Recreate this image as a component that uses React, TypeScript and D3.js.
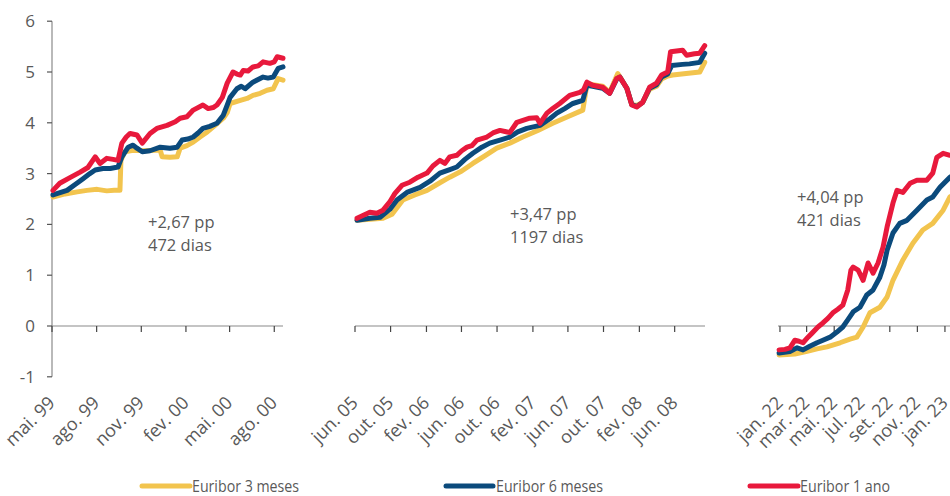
import React from "react";
import * as d3 from "d3";

// ---------- DATA ----------
const seriesNames = ["Euribor 3 meses", "Euribor 6 meses", "Euribor 1 ano"];
const seriesColors = ["#F2C44E", "#0B4A7C", "#E8193C"];
const yTicks = [-1, 0, 1, 2, 3, 4, 5, 6];

// Panel 1: 1999-2000
const p1TickDates = ["1999-05-01", "1999-08-01", "1999-11-01", "2000-02-01", "2000-05-01", "2000-08-01"];
const p1TickLabels = ["mai. 99", "ago. 99", "nov. 99", "fev. 00", "mai. 00", "ago. 00"];
const p1Note = ["+2,67 pp", "472 dias"];
const p1_3m: [string, number][] = [
  ["1999-05-03", 2.54], ["1999-05-28", 2.6], ["1999-06-22", 2.64], ["1999-07-12", 2.67], ["1999-08-02", 2.69],
  ["1999-08-22", 2.66], ["1999-09-06", 2.67], ["1999-09-18", 2.67], ["1999-09-20", 3.26], ["1999-09-28", 3.43],
  ["1999-10-15", 3.46], ["1999-11-09", 3.45], ["1999-11-29", 3.46], ["1999-12-10", 3.46], ["1999-12-14", 3.33],
  ["1999-12-30", 3.32], ["2000-01-14", 3.33], ["2000-01-20", 3.5], ["2000-02-03", 3.55], ["2000-02-16", 3.62],
  ["2000-03-01", 3.72], ["2000-03-16", 3.82], ["2000-04-01", 3.95], ["2000-04-18", 4.09], ["2000-04-26", 4.2],
  ["2000-05-02", 4.38], ["2000-05-23", 4.44], ["2000-06-06", 4.48], ["2000-06-18", 4.54], ["2000-07-03", 4.58],
  ["2000-07-17", 4.64], ["2000-07-30", 4.67], ["2000-08-09", 4.87], ["2000-08-19", 4.84],
];
const p1_6m: [string, number][] = [
  ["1999-05-03", 2.58], ["1999-06-01", 2.67], ["1999-06-17", 2.78], ["1999-07-04", 2.9], ["1999-07-18", 3.0],
  ["1999-07-29", 3.07], ["1999-08-14", 3.1], ["1999-08-29", 3.1], ["1999-09-14", 3.13], ["1999-09-22", 3.33],
  ["1999-10-05", 3.52], ["1999-10-15", 3.56], ["1999-10-23", 3.5], ["1999-11-03", 3.43], ["1999-11-19", 3.45],
  ["1999-12-10", 3.52], ["1999-12-30", 3.5], ["2000-01-14", 3.52], ["2000-01-24", 3.66], ["2000-02-05", 3.68],
  ["2000-02-16", 3.72], ["2000-02-26", 3.8], ["2000-03-07", 3.89], ["2000-03-21", 3.93], ["2000-04-05", 3.99],
  ["2000-04-18", 4.15], ["2000-04-26", 4.35], ["2000-05-02", 4.5], ["2000-05-16", 4.67], ["2000-05-25", 4.72],
  ["2000-06-02", 4.67], ["2000-06-18", 4.8], ["2000-07-09", 4.9], ["2000-07-19", 4.88], ["2000-07-30", 4.9],
  ["2000-08-09", 5.07], ["2000-08-19", 5.1],
];
const p1_12m: [string, number][] = [
  ["1999-05-03", 2.67], ["1999-05-17", 2.81], ["1999-06-07", 2.92], ["1999-06-28", 3.03], ["1999-07-14", 3.12],
  ["1999-07-29", 3.33], ["1999-08-08", 3.2], ["1999-08-22", 3.3], ["1999-09-04", 3.28], ["1999-09-14", 3.26],
  ["1999-09-22", 3.6], ["1999-10-01", 3.72], ["1999-10-09", 3.79], ["1999-10-23", 3.76], ["1999-11-03", 3.6],
  ["1999-11-19", 3.79], ["1999-12-03", 3.89], ["1999-12-24", 3.95], ["2000-01-10", 4.02], ["2000-01-20", 4.09],
  ["2000-02-03", 4.12], ["2000-02-16", 4.25], ["2000-03-07", 4.35], ["2000-03-18", 4.28], ["2000-03-28", 4.3],
  ["2000-04-05", 4.35], ["2000-04-16", 4.5], ["2000-04-26", 4.78], ["2000-05-08", 5.0], ["2000-05-16", 4.96],
  ["2000-05-23", 4.94], ["2000-05-29", 5.03], ["2000-06-08", 5.02], ["2000-06-18", 5.1], ["2000-06-29", 5.12],
  ["2000-07-09", 5.2], ["2000-07-23", 5.17], ["2000-08-01", 5.2], ["2000-08-07", 5.3], ["2000-08-19", 5.27],
];

// Panel 2: 2005-2008
const p2TickDates = ["2005-06-01", "2005-10-01", "2006-02-01", "2006-06-01", "2006-10-01", "2007-02-01", "2007-06-01", "2007-10-01", "2008-02-01", "2008-06-01"];
const p2TickLabels = ["jun. 05", "out. 05", "fev. 06", "jun. 06", "out. 06", "fev. 07", "jun. 07", "out. 07", "fev. 08", "jun. 08"];
const p2Note = ["+3,47 pp", "1197 dias"];
const p2_3m: [string, number][] = [
  ["2005-06-08", 2.08], ["2005-09-05", 2.12], ["2005-10-06", 2.2], ["2005-11-12", 2.48], ["2005-12-23", 2.58],
  ["2006-02-03", 2.67], ["2006-03-19", 2.82], ["2006-04-22", 2.93], ["2006-06-02", 3.05], ["2006-07-10", 3.2],
  ["2006-08-20", 3.35], ["2006-09-30", 3.5], ["2006-11-14", 3.6], ["2006-12-28", 3.72], ["2007-02-18", 3.85],
  ["2007-04-10", 3.99], ["2007-05-31", 4.12], ["2007-07-22", 4.25], ["2007-08-05", 4.74], ["2007-08-25", 4.75],
  ["2007-09-28", 4.72], ["2007-10-22", 4.6], ["2007-11-19", 4.97], ["2007-11-29", 4.88], ["2007-12-20", 4.68],
  ["2008-01-06", 4.36], ["2008-01-23", 4.34], ["2008-02-12", 4.4], ["2008-03-07", 4.66], ["2008-03-31", 4.72],
  ["2008-04-17", 4.86], ["2008-05-08", 4.92], ["2008-05-25", 4.94], ["2008-08-26", 5.0], ["2008-09-12", 5.19],
];
const p2_6m: [string, number][] = [
  ["2005-06-08", 2.08], ["2005-07-22", 2.12], ["2005-08-26", 2.14], ["2005-09-29", 2.3], ["2005-10-23", 2.48],
  ["2005-11-26", 2.63], ["2006-01-10", 2.73], ["2006-02-13", 2.85], ["2006-03-19", 3.01], ["2006-04-22", 3.08],
  ["2006-05-16", 3.13], ["2006-06-13", 3.28], ["2006-07-10", 3.4], ["2006-08-10", 3.52], ["2006-09-06", 3.6],
  ["2006-10-11", 3.66], ["2006-11-14", 3.72], ["2006-12-11", 3.82], ["2007-01-11", 3.89], ["2007-02-25", 3.95],
  ["2007-03-31", 4.08], ["2007-04-24", 4.19], ["2007-05-21", 4.28], ["2007-06-18", 4.38], ["2007-07-22", 4.44],
  ["2007-08-05", 4.74], ["2007-08-25", 4.72], ["2007-09-28", 4.68], ["2007-10-22", 4.58], ["2007-11-15", 4.86],
  ["2007-11-26", 4.9], ["2007-12-20", 4.68], ["2008-01-06", 4.36], ["2008-01-23", 4.32], ["2008-02-12", 4.4],
  ["2008-03-07", 4.68], ["2008-03-31", 4.75], ["2008-04-17", 4.9], ["2008-05-08", 4.96], ["2008-05-22", 5.13],
  ["2008-06-28", 5.15], ["2008-07-22", 5.16], ["2008-08-26", 5.19], ["2008-09-12", 5.37],
];
const p2_12m: [string, number][] = [
  ["2005-06-08", 2.12], ["2005-07-22", 2.24], ["2005-08-15", 2.22], ["2005-09-05", 2.28], ["2005-09-29", 2.45],
  ["2005-10-16", 2.61], ["2005-11-09", 2.77], ["2005-12-06", 2.83], ["2006-01-03", 2.93], ["2006-02-03", 3.01],
  ["2006-02-23", 3.15], ["2006-03-19", 3.26], ["2006-04-05", 3.2], ["2006-04-22", 3.33], ["2006-05-16", 3.36],
  ["2006-06-02", 3.45], ["2006-06-20", 3.52], ["2006-07-07", 3.55], ["2006-07-24", 3.66], ["2006-08-27", 3.72],
  ["2006-09-17", 3.8], ["2006-10-11", 3.85], ["2006-10-28", 3.83], ["2006-11-14", 3.81], ["2006-12-08", 4.01],
  ["2007-01-21", 4.09], ["2007-02-14", 4.1], ["2007-02-25", 3.99], ["2007-03-21", 4.19], ["2007-04-10", 4.28],
  ["2007-05-04", 4.38], ["2007-06-07", 4.54], ["2007-07-12", 4.6], ["2007-07-25", 4.65], ["2007-08-05", 4.8],
  ["2007-08-25", 4.74], ["2007-09-28", 4.7], ["2007-10-22", 4.58], ["2007-11-15", 4.87], ["2007-11-26", 4.9],
  ["2007-12-20", 4.68], ["2008-01-06", 4.35], ["2008-01-23", 4.31], ["2008-02-12", 4.4], ["2008-03-07", 4.7],
  ["2008-03-31", 4.78], ["2008-04-17", 4.94], ["2008-05-08", 5.0], ["2008-05-18", 5.4], ["2008-06-28", 5.43],
  ["2008-07-12", 5.33], ["2008-08-08", 5.36], ["2008-08-26", 5.37], ["2008-09-12", 5.52],
];

// Panel 3: 2022-2023
const p3TickDates = ["2022-01-01", "2022-03-01", "2022-05-01", "2022-07-01", "2022-09-01", "2022-11-01", "2023-01-01"];
const p3TickLabels = ["jan. 22", "mar. 22", "mai. 22", "jul. 22", "set. 22", "nov. 22", "jan. 23"];
const p3Note = ["+4,04 pp", "421 dias"];
const p3_3m: [string, number][] = [
  ["2021-12-30", -0.57], ["2022-02-03", -0.55], ["2022-03-02", -0.5], ["2022-03-24", -0.45], ["2022-04-15", -0.41],
  ["2022-05-14", -0.33], ["2022-06-05", -0.26], ["2022-06-20", -0.22], ["2022-07-04", -0.02], ["2022-07-19", 0.26],
  ["2022-08-10", 0.37], ["2022-08-26", 0.57], ["2022-09-08", 0.9], ["2022-09-30", 1.3], ["2022-10-22", 1.63],
  ["2022-11-13", 1.89], ["2022-12-05", 2.02], ["2022-12-28", 2.28], ["2023-01-12", 2.54], ["2023-01-23", 2.6],
];
const p3_6m: [string, number][] = [
  ["2021-12-30", -0.53], ["2022-01-23", -0.5], ["2022-02-08", -0.43], ["2022-02-21", -0.47], ["2022-03-08", -0.4],
  ["2022-03-24", -0.33], ["2022-04-06", -0.28], ["2022-04-22", -0.22], ["2022-05-07", -0.12], ["2022-05-20", -0.02],
  ["2022-05-31", 0.12], ["2022-06-12", 0.28], ["2022-06-27", 0.37], ["2022-07-12", 0.61], ["2022-07-26", 0.71],
  ["2022-08-10", 0.96], ["2022-08-19", 1.2], ["2022-08-26", 1.49], ["2022-09-08", 1.83], ["2022-09-23", 2.02],
  ["2022-10-09", 2.08], ["2022-10-31", 2.28], ["2022-11-22", 2.48], ["2022-12-05", 2.54], ["2022-12-21", 2.73],
  ["2023-01-12", 2.93], ["2023-01-23", 2.98],
];
const p3_12m: [string, number][] = [
  ["2021-12-30", -0.47], ["2022-01-12", -0.46], ["2022-01-23", -0.43], ["2022-02-03", -0.28], ["2022-02-12", -0.3],
  ["2022-02-21", -0.33], ["2022-03-04", -0.22], ["2022-03-13", -0.14], ["2022-03-26", -0.02], ["2022-04-06", 0.06],
  ["2022-04-17", 0.15], ["2022-04-28", 0.26], ["2022-05-09", 0.33], ["2022-05-20", 0.41], ["2022-05-31", 0.71],
  ["2022-06-07", 1.1], ["2022-06-12", 1.16], ["2022-06-23", 1.1], ["2022-07-04", 0.9], ["2022-07-15", 1.24],
  ["2022-07-26", 1.04], ["2022-08-06", 1.24], ["2022-08-17", 1.55], ["2022-08-26", 1.95], ["2022-09-08", 2.42],
  ["2022-09-17", 2.67], ["2022-09-30", 2.63], ["2022-10-16", 2.81], ["2022-10-31", 2.87], ["2022-11-22", 2.87],
  ["2022-12-05", 3.01], ["2022-12-14", 3.32], ["2022-12-28", 3.4], ["2023-01-12", 3.36], ["2023-01-23", 3.35],
];

// ---------- LAYOUT ----------
const W = 950;
const H = 496;
const FONT = "'Open Sans', 'Noto Sans', sans-serif";
const TEXT = "#595959";
const AXIS = "#8a8a8a";

const parse = d3.timeParse("%Y-%m-%d");

type Panel = {
  domain: [string, string];
  range: [number, number];
  axisStart: number;
  ticks: string[];
  labels: string[];
  note: string[];
  notePos: [number, number];
  series: [string, number][][];
};

const panels: Panel[] = [
  { domain: ["1999-05-01", "2000-08-19"], range: [52, 283], axisStart: 52, ticks: p1TickDates, labels: p1TickLabels, note: p1Note, notePos: [148, 228], series: [p1_3m, p1_6m, p1_12m] },
  { domain: ["2005-06-01", "2008-09-13"], range: [355, 705], axisStart: 355, ticks: p2TickDates, labels: p2TickLabels, note: p2Note, notePos: [510, 220], series: [p2_3m, p2_6m, p2_12m] },
  { domain: ["2021-12-27", "2023-02-21"], range: [777.7, 968], axisStart: 778, ticks: p3TickDates, labels: p3TickLabels, note: p3Note, notePos: [797, 203], series: [p3_3m, p3_6m, p3_12m] },
];

const y = d3.scaleLinear().domain([-1, 6]).range([376.8, 21.2]);
const axisX = 52;

const legendItems = [
  { x0: 142, x1: 190, tx: 192, tw: 107 },
  { x0: 446, x1: 493, tx: 496, tw: 107 },
  { x0: 750, x1: 798, tx: 800, tw: 90 },
];
const legendY = 486;

export default function App() {
  return (
    <svg
      width={W}
      height={H}
      viewBox={`0 0 ${W} ${H}`}
      style={{ position: "absolute", left: 0, top: 0, background: "#fff", overflow: "hidden" }}
      fontFamily={FONT}
    >
      <rect x={0} y={0} width={W} height={H} fill="#fff" />
      {/* Y axis */}
      <line x1={axisX} x2={axisX} y1={y(6)} y2={y(-1)} stroke={AXIS} strokeWidth={1.2} />
      {yTicks.map((t) => (
        <g key={t}>
          <line x1={axisX - 5} x2={axisX} y1={y(t)} y2={y(t)} stroke="#555" strokeWidth={1.2} />
          <text x={35} y={y(t)} dy="0.35em" textAnchor="end" fontSize={17} fill={TEXT}>
            {t}
          </text>
        </g>
      ))}

      {panels.map((p, pi) => {
        const x = d3.scaleTime().domain([parse(p.domain[0])!, parse(p.domain[1])!]).range(p.range);
        const line = d3
          .line<[string, number]>()
          .x((d) => x(parse(d[0])!))
          .y((d) => y(d[1]))
          .curve(d3.curveLinear);
        return (
          <g key={pi}>
            <line x1={p.axisStart} x2={p.range[1]} y1={y(0)} y2={y(0)} stroke={AXIS} strokeWidth={1.2} />
            {p.ticks.map((t, i) => {
              const tx = x(parse(t)!);
              return (
                <g key={t}>
                  <line x1={tx} x2={tx} y1={y(0)} y2={y(0) + 6} stroke="#444" strokeWidth={1.2} />
                  <text
                    transform={`translate(${tx + 4},${404}) rotate(-45)`}
                    textAnchor="end"
                    fontSize={18}
                    fill={TEXT}
                  >
                    {p.labels[i]}
                  </text>
                </g>
              );
            })}
            {p.series.map((s, si) => (
              <path
                key={si}
                d={line(s) || ""}
                fill="none"
                stroke={seriesColors[si]}
                strokeWidth={5}
                strokeLinejoin="round"
                strokeLinecap="round"
              />
            ))}
            <text x={p.notePos[0]} y={p.notePos[1]} fontSize={16.5} fill={TEXT}>
              {p.note[0]}
            </text>
            <text x={p.notePos[0]} y={p.notePos[1] + 23} fontSize={16.5} fill={TEXT}>
              {p.note[1]}
            </text>
          </g>
        );
      })}

      {/* Legend */}
      {legendItems.map((l, i) => (
        <g key={i}>
          <line x1={l.x0} x2={l.x1} y1={legendY} y2={legendY} stroke={seriesColors[i]} strokeWidth={5} strokeLinecap="round" />
          <text
            x={l.tx}
            y={legendY + 6}
            fontSize={16}
            fill={TEXT}
            textLength={l.tw}
            lengthAdjust="spacingAndGlyphs"
          >
            {seriesNames[i]}
          </text>
        </g>
      ))}
    </svg>
  );
}
